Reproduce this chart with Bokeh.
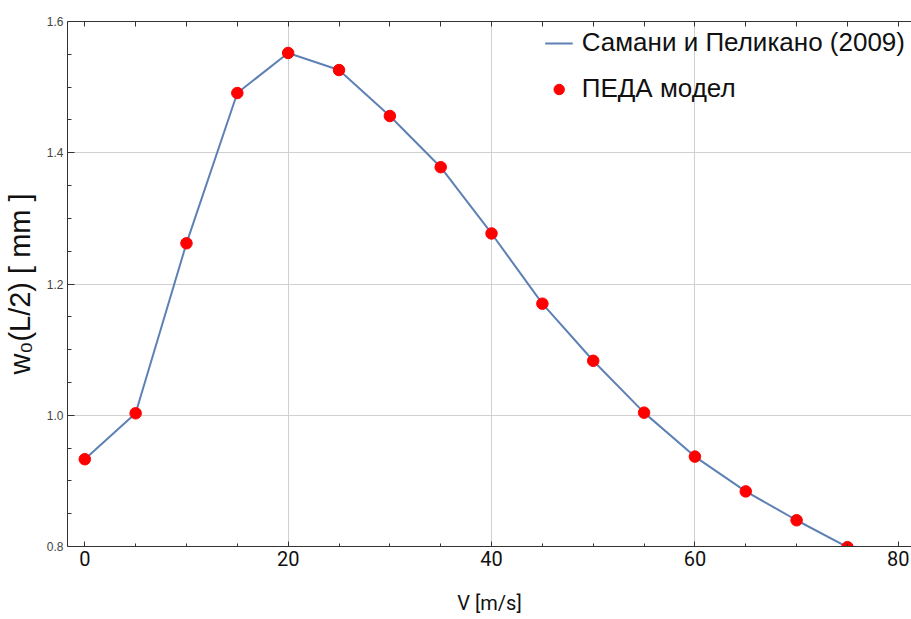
from bokeh.plotting import figure
from bokeh.embed import file_html
from bokeh.resources import INLINE
from bokeh.models import (FixedTicker, LinearAxis, Range1d, Legend, LegendItem,
                          ColumnDataSource, Grid, PrintfTickFormatter)

# data
speed = [0, 5, 10, 15, 20, 25, 30, 35, 40, 45, 50, 55, 60, 65, 70, 75]
deflection = [0.933, 1.003, 1.262, 1.491, 1.552, 1.526, 1.456, 1.378, 1.277,
              1.170, 1.083, 1.004, 0.937, 0.884, 0.840, 0.799]
x_major = [0, 20, 40, 60, 80]
x_minor = [5, 10, 15, 25, 30, 35, 45, 50, 55, 65, 70, 75]
y_major = [0.8, 1.0, 1.2, 1.4, 1.6]
y_minor = [0.85, 0.9, 0.95, 1.05, 1.1, 1.15, 1.25, 1.3, 1.35, 1.45, 1.5, 1.55]
x_grid = [20, 40, 60]
y_grid = [1.0, 1.2, 1.4]
series_line = "Самани и Пеликано (2009)"
series_pts = "ПЕДА модел"

src = ColumnDataSource(dict(x=speed, y=deflection))

p = figure(width=911, height=619, output_backend="svg", toolbar_location=None,
           x_range=Range1d(-1.7, 81.3), y_range=Range1d(0.8, 1.6),
           x_axis_type=None, y_axis_type=None)
p.min_border_left = 66
p.min_border_right = 0
p.min_border_top = 21
p.min_border_bottom = 73
p.outline_line_color = None
p.background_fill_color = "white"
p.border_fill_color = "white"

axis_color = "#333333"

xb = LinearAxis(ticker=FixedTicker(ticks=x_major, minor_ticks=x_minor))
xb.axis_label = "V [m/s]"
xb.axis_label_text_font = "Roboto"
xb.axis_label_text_font_size = "20px"
xb.axis_label_text_font_style = "normal"
xb.axis_label_text_color = "#111111"
xb.axis_label_standoff = 22
xb.major_label_text_font = "Roboto"
xb.major_label_text_font_size = "20px"
xb.major_label_standoff = 4
xb.major_label_text_color = "#111111"
xb.axis_line_color = axis_color
xb.major_tick_line_color = axis_color
xb.minor_tick_line_color = axis_color
xb.major_tick_in = 5
xb.major_tick_out = 0
xb.minor_tick_in = 3
xb.minor_tick_out = 0
p.add_layout(xb, "below")

# top frame line with ticks only (no labels)
xt = LinearAxis(ticker=FixedTicker(ticks=[], minor_ticks=x_major + x_minor))
xt.major_label_standoff = 0
xt.axis_line_color = axis_color
xt.major_tick_line_color = axis_color
xt.minor_tick_line_color = axis_color
xt.major_tick_in = 0
xt.major_tick_out = 0
xt.minor_tick_in = 5
xt.minor_tick_out = 0
p.add_layout(xt, "above")

yl = LinearAxis(ticker=FixedTicker(ticks=y_major, minor_ticks=y_minor),
                formatter=PrintfTickFormatter(format="%.1f"))
yl.axis_label = "w₀(L/2) [ mm ]"
yl.axis_label_text_font = "Liberation Sans"
yl.axis_label_text_font_size = "29px"
yl.axis_label_text_font_style = "normal"
yl.axis_label_text_color = "#111111"
yl.axis_label_standoff = 8
yl.major_label_text_font = "Liberation Sans"
yl.major_label_text_font_size = "12px"
yl.major_label_text_color = "#444444"
yl.major_label_standoff = 4
yl.axis_line_color = axis_color
yl.major_tick_line_color = axis_color
yl.minor_tick_line_color = axis_color
yl.major_tick_in = 7
yl.major_tick_out = 0
yl.minor_tick_in = 4
yl.minor_tick_out = 0
p.add_layout(yl, "left")

gx = Grid(dimension=0, ticker=FixedTicker(ticks=x_grid), grid_line_color="#d0d0d0",
          grid_line_width=1)
gy = Grid(dimension=1, ticker=FixedTicker(ticks=y_grid), grid_line_color="#d0d0d0",
          grid_line_width=1)
p.add_layout(gx)
p.add_layout(gy)

ln = p.line("x", "y", source=src, line_color="#5E81B5", line_width=2)
pts = p.scatter("x", "y", source=src, size=11.5, fill_color="#FF0000",
                line_color="#FF0000")

legend = Legend(items=[LegendItem(label=series_line, renderers=[ln]),
                       LegendItem(label=series_pts, renderers=[pts])],
                location="top_right")
legend.background_fill_alpha = 0
legend.border_line_color = None
legend.label_text_font = "Liberation Sans"
legend.label_text_font_size = "26px"
legend.label_text_color = "#111111"
legend.label_standoff = 9
legend.glyph_width = 28
legend.glyph_height = 26
legend.label_height = 26
legend.spacing = 15
legend.margin = 6
legend.padding = 8
p.add_layout(legend)

open("out.html", "w").write(file_html(p, INLINE))
